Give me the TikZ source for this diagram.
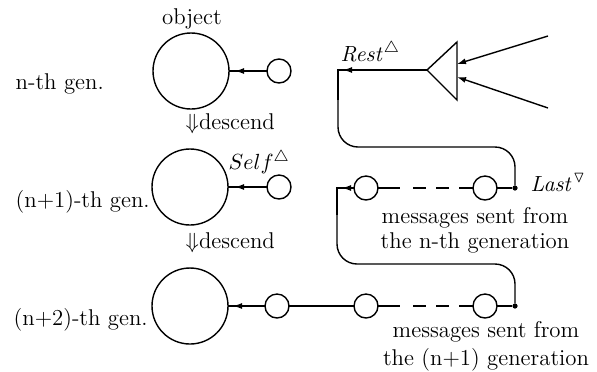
\documentclass[tikz,border=0pt]{standalone}
\usepackage{amssymb}
\usetikzlibrary{arrows.meta,decorations.markings}
\begin{document}
\begin{tikzpicture}[x=0.5pt,y=-0.5pt, line width=0.7pt,
 big/.style={circle,draw,minimum size=38pt,inner sep=0pt,outer sep=0pt},
 small/.style={circle,draw,minimum size=12pt,inner sep=0pt,outer sep=0pt},
 joint/.style={circle,fill,minimum size=2.6pt,inner sep=0pt,outer sep=0pt},
 lbl/.style={inner sep=0pt,anchor=base west,font=\fontsize{11.4}{13}\selectfont},
 tip/.style={-{Latex[length=4.5pt,width=3pt]}},
 midarrow/.style={postaction={decorate},decoration={markings,mark=at position #1 with {\arrow{Latex[length=4.5pt,width=3pt]}}}},
 msgline/.style={dash pattern=on 11pt off 6.5pt on 6.5pt off 5pt on 6.5pt off 5pt on 30pt},
]
\useasboundingbox (0,0) rectangle (597,371);
% objects
\node[big] (bigA) at (191,71) {};
\node[big] (bigB) at (190,187) {};
\node[big] (bigC) at (190,306) {};
\node[small] (sA) at (279,71) {};
\node[small] (sB) at (279,187) {};
% message streams
\node[small] (m2a) at (366,188) {};
\node[small] (m2b) at (485,188) {};
\node[joint] (d2) at (515,188) {};
\node[small] (m3a) at (277,306) {};
\node[small] (m3b) at (366,306) {};
\node[small] (m3c) at (485,306) {};
\node[joint] (d3) at (515,306) {};
% merger
\coordinate (T) at (427,70);
\coordinate (TA) at (457,42);
\coordinate (TB) at (457,100);
\coordinate (in1) at (548,36);
\coordinate (in2) at (548,108);
\coordinate (e1) at (457,64);
\coordinate (e2) at (457,77);
\draw (T) -- (TA) -- (TB) -- cycle;
\draw[tip] (in1) -- (e1);
\draw[tip] (in2) -- (e2);
% corners
\coordinate (c1) at (338,70);
\coordinate (c1a) at (338,100);
\coordinate (c1b) at (338,90);
\coordinate (c1c) at (338,147);
\coordinate (c1d) at (515,147);
\coordinate (c2) at (337,188);
\coordinate (c2a) at (337,215);
\coordinate (c2b) at (337,205);
\coordinate (c2c) at (337,264);
\coordinate (c2d) at (515,264);
% connectors
\draw[midarrow=16pt] (sA) -- (bigA);
\draw[midarrow=16pt] (sB) -- (bigB);
\draw[midarrow=16pt] (m3a) -- (bigC);
\draw (m3b) -- (m3a);
\draw[msgline] (m2a) -- (m2b);
\draw[msgline] (m3b) -- (m3c);
\draw (m2b) -- (d2);
\draw (m3c) -- (d3);
\draw[midarrow=42pt] (T) -- (c1) -- (c1a);
\draw[rounded corners=10pt] (c1b) -- (c1c) -- (c1d) -- (d2);
\draw[midarrow=6pt] (m2a) -- (c2) -- (c2a);
\draw[rounded corners=10pt] (c2b) -- (c2c) -- (c2d) -- (d3);
% labels
\node[lbl,anchor=base] (lobj) at (192,24) {object};
\node[lbl] (lg1) at (15,89) {n-th gen.};
\node[lbl] (lg2) at (15,207) {(n+1)-th gen.};
\node[lbl] (lg3) at (13,325) {(n+2)-th gen.};
\node[lbl] (ld1) at (185,129) {$\Downarrow$descend};
\node[lbl] (ld2) at (185,248) {$\Downarrow$descend};
\node[lbl] (lself) at (228,169) {$Self^{\triangle}$};
\node[lbl] (lrest) at (340,61) {$\mathit{Rest}^{\triangle}$};
\node[lbl] (llast) at (530,191) {$\mathit{Last}^{\triangledown}$};
\node[lbl,anchor=base,align=center,font=\fontsize{11.4}{12.5}\selectfont] (lm2) at (475,248) {messages sent from\\the n-th generation};
\node[lbl,anchor=base,align=center,font=\fontsize{11.4}{13.8}\selectfont] (lm3) at (486,365) {messages sent from\\the (n+1) generation};
\end{tikzpicture}
\end{document}
